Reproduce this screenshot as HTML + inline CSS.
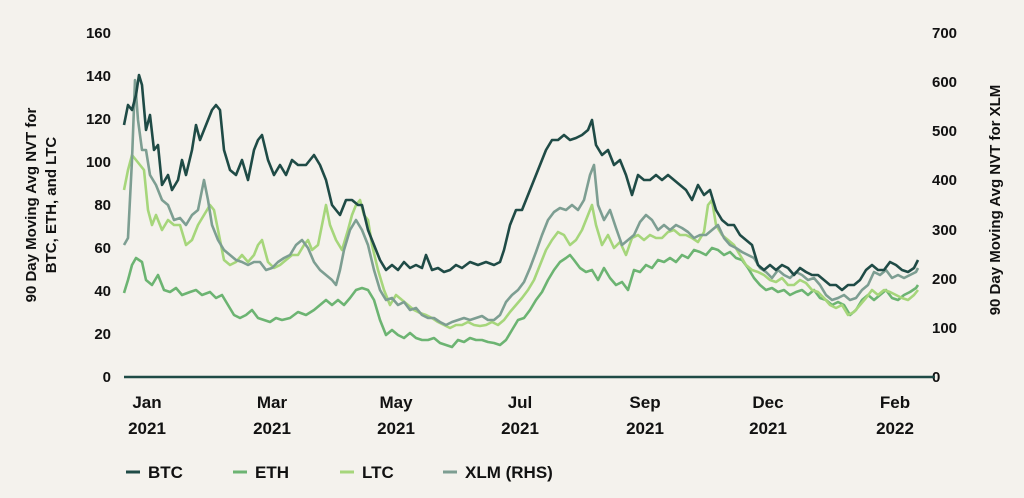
<!DOCTYPE html>
<html><head><style>
html,body{margin:0;padding:0;background:#f4f2ed;}
svg{display:block;font-family:"Liberation Sans",sans-serif;font-weight:bold;}
</style></head><body>
<svg width="1024" height="498" viewBox="0 0 1024 498">
<rect width="1024" height="498" fill="#f4f2ed"/>
<g font-size="15" fill="#111" text-anchor="end">
<text x="111" y="38">160</text><text x="111" y="81">140</text><text x="111" y="124">120</text><text x="111" y="167">100</text><text x="111" y="210">80</text><text x="111" y="253">60</text><text x="111" y="296">40</text><text x="111" y="339">20</text><text x="111" y="382">0</text>
</g>
<g font-size="15" fill="#111" text-anchor="start">
<text x="932" y="38">700</text><text x="932" y="87">600</text><text x="932" y="136">500</text><text x="932" y="185">400</text><text x="932" y="235">300</text><text x="932" y="284">200</text><text x="932" y="333">100</text><text x="932" y="382">0</text>
</g>
<g font-size="15" fill="#111" text-anchor="middle">
<text transform="translate(36,205) rotate(-90)">90 Day Moving Avg NVT for</text>
<text transform="translate(56,205) rotate(-90)">BTC, ETH, and LTC</text>
<text transform="translate(1000,200) rotate(-90)">90 Day Moving Avg NVT for XLM</text>
</g>
<g font-size="17" fill="#111" text-anchor="middle">
<text x="147" y="408">Jan</text><text x="147" y="434">2021</text>
<text x="272" y="408">Mar</text><text x="272" y="434">2021</text>
<text x="396" y="408">May</text><text x="396" y="434">2021</text>
<text x="520" y="408">Jul</text><text x="520" y="434">2021</text>
<text x="645" y="408">Sep</text><text x="645" y="434">2021</text>
<text x="768" y="408">Dec</text><text x="768" y="434">2021</text>
<text x="895" y="408">Feb</text><text x="895" y="434">2022</text>
</g>
<line x1="124" y1="377" x2="935" y2="377" stroke="#1f4b46" stroke-width="2.5"/>
<g fill="none" stroke-width="2.6" stroke-linejoin="round">
<polyline stroke="#6cb472" points="124,293 128,280 132,265 136,258 142,262 146,280 152,285 158,275 164,290 170,292 176,288 182,295 190,292 196,290 202,295 210,292 216,298 222,295 228,305 234,315 240,318 246,315 252,310 258,318 264,320 270,322 276,318 282,320 290,318 298,312 306,315 314,310 320,305 326,300 332,305 338,300 344,305 350,298 356,290 362,288 368,290 374,300 380,320 386,335 392,330 398,335 404,338 410,333 416,338 422,340 428,340 434,338 440,343 446,345 452,347 458,340 464,342 470,338 476,340 482,340 488,342 494,343 500,345 506,340 512,330 518,320 524,318 530,310 536,300 542,292 548,280 554,270 560,262 566,258 570,255 574,260 580,268 586,272 592,270 598,280 604,268 610,278 616,285 622,282 628,290 634,270 640,272 646,265 652,268 658,260 664,262 670,258 676,262 682,255 688,258 694,250 700,252 706,255 712,248 718,250 724,255 730,252 736,258 742,260 748,268 754,278 760,285 766,290 772,288 778,292 784,290 790,295 796,292 802,290 808,295 814,290 820,298 826,300 832,305 838,302 844,305 850,315 856,310 862,300 868,295 874,300 880,295 886,290 892,298 898,300 904,295 910,292 916,288 918,285"/>
<polyline stroke="#a6d67b" points="124,190 128,170 132,155 136,160 140,165 144,170 148,210 152,225 156,215 162,230 168,220 174,225 180,225 186,245 192,240 198,225 204,215 210,205 214,210 218,230 224,260 230,265 236,262 242,255 248,262 254,255 258,245 262,240 268,262 274,268 280,265 286,260 292,255 298,255 304,245 308,240 312,250 318,245 322,225 326,205 330,225 336,240 342,250 348,230 352,215 356,205 360,200 364,215 368,220 372,245 378,270 384,290 390,305 396,295 402,300 408,305 414,310 420,313 426,315 432,318 438,322 444,325 450,328 456,325 462,325 468,322 474,325 480,326 486,325 492,322 498,325 504,320 510,312 516,305 522,298 528,290 534,280 540,265 546,250 552,240 558,232 564,235 570,245 576,240 582,230 588,215 592,205 596,225 602,245 608,235 614,248 620,242 626,255 632,238 638,235 644,240 650,235 656,238 662,238 668,232 674,230 680,235 686,235 692,238 698,242 704,232 708,205 712,200 716,225 722,235 728,240 734,245 740,255 746,265 752,270 758,272 764,275 770,280 776,282 782,278 788,285 794,285 800,280 806,283 812,290 818,292 824,298 830,305 836,308 842,305 848,315 854,312 860,305 866,298 872,290 878,295 884,290 890,292 896,295 902,298 908,300 914,295 918,290"/>
<polyline stroke="#7d9e92" points="124,245 128,238 132,160 135,80 138,120 142,150 146,150 150,175 156,185 162,200 168,205 174,220 180,218 186,225 192,215 198,210 204,180 208,200 212,225 218,240 224,250 230,255 236,260 242,262 248,265 254,262 260,262 266,270 272,268 278,262 284,258 290,255 296,245 302,240 308,248 314,262 320,270 326,275 332,280 336,285 340,270 344,250 350,230 356,220 362,230 368,245 374,270 380,290 386,300 392,298 398,305 404,302 410,310 416,308 422,315 428,318 434,318 440,322 446,325 452,322 458,320 464,318 470,320 476,318 482,316 488,320 494,320 500,315 506,302 512,295 518,290 524,282 530,268 536,252 542,235 548,220 554,212 560,208 566,210 572,205 578,210 584,200 590,175 594,165 598,205 604,220 610,210 616,228 622,245 628,240 634,235 640,222 646,215 652,220 658,230 664,225 670,230 676,225 682,228 688,232 694,238 700,235 706,235 712,230 718,225 724,238 730,245 736,248 742,252 748,255 754,258 760,268 766,272 772,278 778,270 784,275 790,278 796,272 802,275 808,280 814,278 820,285 826,295 832,300 838,298 844,295 850,300 856,298 862,290 868,285 874,272 880,275 886,270 892,278 898,275 904,278 910,275 916,272 918,268"/>
<polyline stroke="#1f4b46" points="124,125 128,105 132,110 136,95 139,75 142,85 146,130 150,115 154,150 158,145 162,185 168,175 172,190 178,180 182,160 186,175 192,150 196,125 200,140 206,125 212,110 216,105 220,110 224,150 230,170 236,175 242,160 248,180 254,150 258,140 262,135 268,160 274,175 280,165 286,175 292,160 298,165 306,165 314,155 320,165 326,180 332,205 340,215 346,200 352,200 358,205 362,205 368,230 374,245 380,260 386,270 392,265 398,270 404,262 410,268 416,265 422,268 426,255 432,270 438,268 444,272 450,270 456,265 462,268 470,262 478,265 486,262 494,265 500,262 504,250 510,225 516,210 522,210 528,195 534,180 540,165 546,150 552,140 558,140 564,135 570,140 576,138 582,135 588,130 592,120 596,145 602,155 608,150 614,165 620,160 626,175 632,195 638,175 644,180 650,180 656,175 662,180 668,175 674,180 680,185 686,190 692,200 698,185 704,195 710,190 716,210 722,220 728,225 734,225 740,235 746,240 752,245 758,265 764,270 770,265 776,270 782,265 788,268 794,275 800,268 806,272 812,275 818,275 824,280 830,285 836,285 842,290 848,285 854,285 860,280 866,270 872,265 878,270 884,270 890,262 896,265 902,270 908,272 914,268 918,260"/>
</g>
<g stroke-width="3">
<line x1="126" y1="472" x2="140" y2="472" stroke="#1f4b46"/>
<line x1="233" y1="472" x2="247" y2="472" stroke="#6cb472"/>
<line x1="340" y1="472" x2="354" y2="472" stroke="#a6d67b"/>
<line x1="443" y1="472" x2="457" y2="472" stroke="#7d9e92"/>
</g>
<g font-size="17" fill="#111">
<text x="148" y="478">BTC</text><text x="255" y="478">ETH</text><text x="362" y="478">LTC</text><text x="465" y="478">XLM (RHS)</text>
</g>
</svg>
</body></html>
